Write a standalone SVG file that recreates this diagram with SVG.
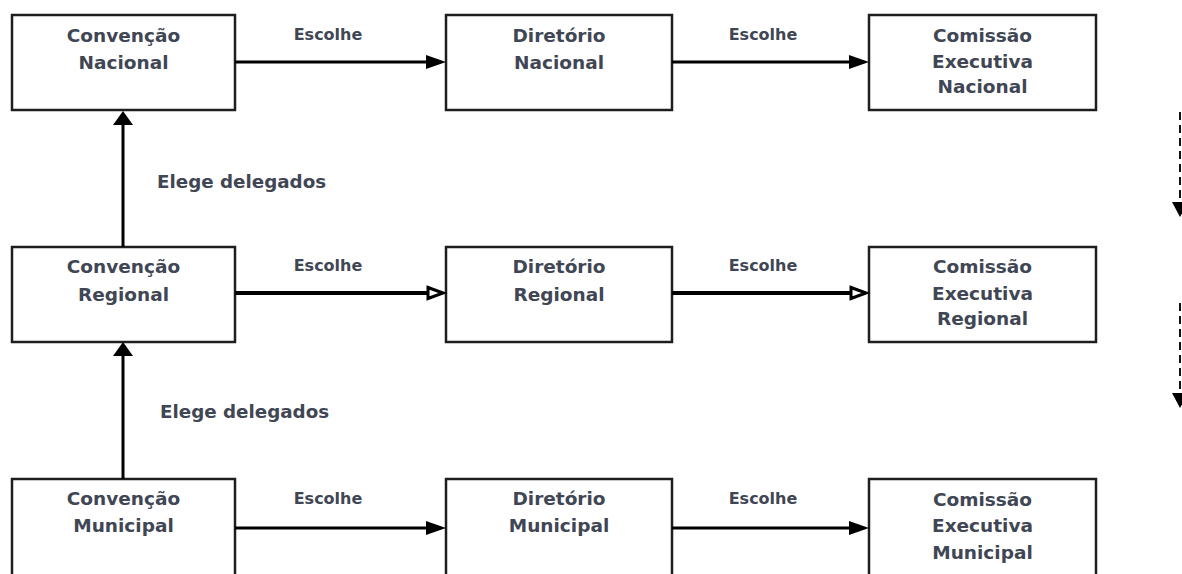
<svg xmlns="http://www.w3.org/2000/svg" width="1182" height="574" viewBox="0 0 1182 574">
<style>
.box{fill:#fff;stroke:#1e1e1e;stroke-width:2.5}
.t{font-family:"DejaVu Sans",sans-serif;font-weight:bold;font-size:18.5px;fill:#404654;text-anchor:middle}
.l{font-family:"DejaVu Sans",sans-serif;font-weight:bold;font-size:16px;fill:#404654;text-anchor:middle}
.e{font-family:"DejaVu Sans",sans-serif;font-weight:bold;font-size:18.3px;fill:#404654}
.ln{stroke:#000;stroke-width:3;fill:none}
.ln2{stroke:#000;stroke-width:4;fill:none}
.hd{fill:#000}
.hd2{fill:#fff;stroke:#000;stroke-width:3;stroke-linejoin:miter}
.ds{stroke:#111;stroke-width:2;stroke-dasharray:8 5;fill:none}
</style>
<rect width="1182" height="574" fill="#fff"/>
<g id="conv-nacional"><rect class="box" x="12" y="15" width="223" height="95"/><text class="t" x="123.5" y="42">Convenção</text><text class="t" x="123.5" y="69">Nacional</text></g>
<g id="dir-nacional"><rect class="box" x="446" y="15" width="226" height="95"/><text class="t" x="559" y="42">Diretório</text><text class="t" x="559" y="69">Nacional</text></g>
<g id="com-nacional"><rect class="box" x="869" y="15" width="227" height="95"/><text class="t" x="982.5" y="42">Comissão</text><text class="t" x="982.5" y="68">Executiva</text><text class="t" x="982.5" y="93">Nacional</text></g>
<g id="conv-regional"><rect class="box" x="12" y="247" width="223" height="95"/><text class="t" x="123.5" y="273">Convenção</text><text class="t" x="123.5" y="301">Regional</text></g>
<g id="dir-regional"><rect class="box" x="446" y="247" width="226" height="95"/><text class="t" x="559" y="273">Diretório</text><text class="t" x="559" y="301">Regional</text></g>
<g id="com-regional"><rect class="box" x="869" y="247" width="227" height="95"/><text class="t" x="982.5" y="273">Comissão</text><text class="t" x="982.5" y="300">Executiva</text><text class="t" x="982.5" y="325">Regional</text></g>
<g id="conv-municipal"><rect class="box" x="12" y="479" width="223" height="110"/><text class="t" x="123.5" y="505">Convenção</text><text class="t" x="123.5" y="532">Municipal</text></g>
<g id="dir-municipal"><rect class="box" x="446" y="479" width="226" height="110"/><text class="t" x="559" y="505">Diretório</text><text class="t" x="559" y="532">Municipal</text></g>
<g id="com-municipal"><rect class="box" x="869" y="479" width="227" height="110"/><text class="t" x="982.5" y="506">Comissão</text><text class="t" x="982.5" y="532">Executiva</text><text class="t" x="982.5" y="559">Municipal</text></g>
<g id="connectors">
<line class="ln" x1="235" y1="62" x2="428" y2="62"/><polygon class="hd" points="446,62 426,55 426,69"/>
<line class="ln" x1="672" y1="62" x2="851" y2="62"/><polygon class="hd" points="869,62 849,55 849,69"/>
<line class="ln2" x1="235" y1="293" x2="430" y2="293"/><polygon class="hd2" points="443,293 428,287.5 428,298.5"/>
<line class="ln2" x1="672" y1="293" x2="853" y2="293"/><polygon class="hd2" points="866,293 851,287.5 851,298.5"/>
<line class="ln" x1="235" y1="528" x2="428" y2="528"/><polygon class="hd" points="446,528 426,521 426,535"/>
<line class="ln" x1="672" y1="528" x2="851" y2="528"/><polygon class="hd" points="869,528 849,521 849,535"/>
<line class="ln" x1="123" y1="247" x2="123" y2="124"/><polygon class="hd" points="123,111 113,125 133,125"/>
<line class="ln" x1="123" y1="479" x2="123" y2="355"/><polygon class="hd" points="123,342 113,356 133,356"/>
<line class="ds" x1="1180" y1="112" x2="1180" y2="204"/><polygon class="hd" points="1180,217 1172,202 1188,202"/>
<line class="ds" x1="1180" y1="303" x2="1180" y2="395"/><polygon class="hd" points="1180,408 1172,393 1188,393"/>
<text class="l" x="328" y="40">Escolhe</text>
<text class="l" x="763" y="40">Escolhe</text>
<text class="l" x="328" y="271">Escolhe</text>
<text class="l" x="763" y="271">Escolhe</text>
<text class="l" x="328" y="504">Escolhe</text>
<text class="l" x="763" y="504">Escolhe</text>
<text class="e" x="157" y="188">Elege delegados</text>
<text class="e" x="160" y="418">Elege delegados</text>
</g>
</svg>
